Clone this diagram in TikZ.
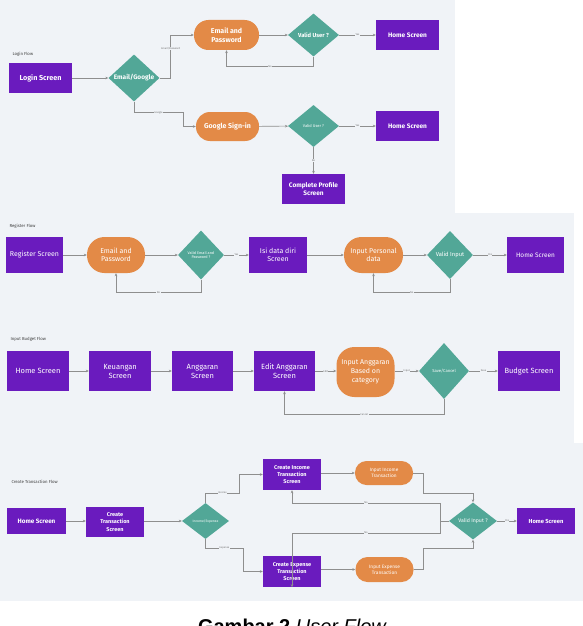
\documentclass[tikz,border=0pt]{standalone}
\usepackage{fontspec}
\setmainfont{Fira Sans}
\newfontfamily\capfont{Liberation Sans}
\usetikzlibrary{shapes.geometric,arrows.meta}

\definecolor{panel}{HTML}{F0F3F7}
\definecolor{scr}{HTML}{6A1BBE}
\definecolor{dec}{HTML}{52A797}
\definecolor{proc}{HTML}{E38A47}
\definecolor{wire}{HTML}{8E8E8E}

\begin{document}
\begin{tikzpicture}[x=1pt,y=-1pt,
  screen/.style={rectangle,fill=scr,text=white,align=center,inner sep=0pt,font=\fontsize{7}{8.3}\selectfont},
  process/.style={rectangle,fill=proc,text=white,align=center,inner sep=0pt,font=\fontsize{7}{8.3}\selectfont},
  decision/.style={diamond,fill=dec,text=white,align=center,inner sep=0pt,font=\fontsize{5.5}{6.5}\selectfont},
  conn/.style={draw=wire,line width=0.6pt,-{Stealth[length=3pt,width=2.6pt]}},
  tag/.style={fill=panel,text=black!55,inner sep=0.4pt,font=\fontsize{2.6}{3}\selectfont},
  flowtitle/.style={anchor=west,text=black!75,font=\fontsize{4.3}{5}\selectfont},
]
% page and panel backgrounds
\fill[white] (0,0) rectangle (583,626);
\fill[panel] (0,0) rectangle (455,213);
\fill[panel] (0,213) rectangle (574,443);
\fill[panel] (0,443) rectangle (583,601);
\useasboundingbox (0,0) rectangle (583,626);

% ---------------- Login flow ----------------
\node[flowtitle] (tlogin) at (9,54) {Login Flow};
\node[screen,font=\bfseries\fontsize{7.2}{8.5}\selectfont,minimum width=63pt,minimum height=30pt] (ls) at (40.5,78) {Login Screen};
\node[decision,font=\bfseries\fontsize{6.5}{7.5}\selectfont,minimum width=51pt,minimum height=42pt] (eg) at (134,78) {Email/Google};
\node[process,font=\bfseries\fontsize{7}{8.5}\selectfont,minimum width=65pt,minimum height=30pt,rounded corners=14.5pt] (ep1) at (226.5,35) {Email and\\Password};
\node[decision,font=\bfseries\fontsize{5.8}{6.8}\selectfont,minimum width=51pt,minimum height=43pt] (vu1) at (313.5,35) {Valid User ?};
\node[screen,font=\bfseries\fontsize{6.5}{7.5}\selectfont,minimum width=63pt,minimum height=30pt] (hs1) at (407.5,35) {Home Screen};
\node[process,font=\bfseries\fontsize{7}{8.5}\selectfont,minimum width=63pt,minimum height=29pt,rounded corners=14pt] (gs) at (227.5,126.5) {Google Sign-in};
\node[decision,font=\fontsize{4}{5}\selectfont,minimum width=51pt,minimum height=42pt] (vu2) at (313.5,126) {Valid User ?};
\node[screen,font=\bfseries\fontsize{6.5}{7.5}\selectfont,minimum width=63pt,minimum height=30pt] (hs2) at (407.5,126) {Home Screen};
\node[screen,font=\bfseries\fontsize{6.5}{8}\selectfont,minimum width=63pt,minimum height=30pt] (cp) at (313.5,189) {Complete Profile\\Screen};

\draw[conn] (ls) -- (eg);
\draw[conn] (eg.east) -- ++(11,0) |- node[tag,pos=0.34]{Email/Password} (ep1.west);
\draw[conn] (ep1) -- (vu1);
\draw[conn] (vu1) -- node[tag]{Yes} (hs1);
\draw[conn] (vu1.south) -- ++(0,10) -| node[tag,pos=0.25]{No} (ep1.south);
\draw[conn] (eg.south) -- ++(0,11) -- node[tag]{Google} ++(49,0) |- (gs.west);
\draw[conn] (gs) -- (vu2);
\draw[conn] (vu2) -- node[tag]{Yes} (hs2);
\draw[conn] (vu2) -- node[tag]{No} (cp);

% ---------------- Register flow ----------------
\node[flowtitle] (treg) at (6,226) {Register Flow};
\node[screen,minimum width=57pt,minimum height=36pt] (rs) at (34.5,255) {Register Screen};
\node[process,minimum width=58pt,minimum height=36pt,rounded corners=17.5pt] (ep2) at (116,255) {Email and\\Password};
\node[decision,font=\fontsize{3.8}{4.8}\selectfont,minimum width=46pt,minimum height=49pt] (ve) at (201,255) {Valid Email and\\Password ?};
\node[screen,minimum width=58pt,minimum height=36pt] (isi) at (278,255) {Isi data diri\\Screen};
\node[process,minimum width=59pt,minimum height=36pt,rounded corners=17.5pt] (ipd) at (373.5,255) {Input Personal\\data};
\node[decision,font=\fontsize{5.8}{6.8}\selectfont,minimum width=46pt,minimum height=48pt] (vi2) at (450,255) {Valid Input};
\node[screen,font=\fontsize{6.5}{7.5}\selectfont,minimum width=57pt,minimum height=36pt] (hs3) at (535.5,255) {Home Screen};

\draw[conn] (rs) -- (ep2);
\draw[conn] (ep2) -- (ve);
\draw[conn] (ve) -- node[tag]{Yes} (isi);
\draw[conn] (isi) -- (ipd);
\draw[conn] (ipd) -- (vi2);
\draw[conn] (vi2) -- node[tag]{Yes} (hs3);
\draw[conn] (ve.south) -- ++(0,13) -| node[tag,pos=0.25]{No} (ep2.south);
\draw[conn] (vi2.south) -- ++(0,13) -| node[tag,pos=0.25]{No} (ipd.south);

% ---------------- Input budget flow ----------------
\node[flowtitle] (tbud) at (7,339) {Input Budget Flow};
\node[screen,font=\fontsize{7.5}{9}\selectfont,minimum width=62pt,minimum height=40pt] (hs4) at (38,371) {Home Screen};
\node[screen,font=\fontsize{7.5}{9}\selectfont,minimum width=62pt,minimum height=40pt] (ku) at (120,371) {Keuangan\\Screen};
\node[screen,font=\fontsize{7.5}{9}\selectfont,minimum width=61pt,minimum height=40pt] (ag) at (202.5,371) {Anggaran\\Screen};
\node[screen,font=\fontsize{7.5}{9}\selectfont,minimum width=61pt,minimum height=40pt] (ea) at (284.5,371) {Edit Anggaran\\Screen};
\node[process,font=\fontsize{7}{9}\selectfont,minimum width=58pt,minimum height=50pt,rounded corners=18pt] (ia) at (365.5,372) {Input Anggaran\\Based on\\category};
\node[decision,font=\fontsize{4.2}{5}\selectfont,minimum width=50pt,minimum height=56pt] (sc) at (444,371) {Save/Cancel};
\node[screen,font=\fontsize{7.5}{9}\selectfont,minimum width=62pt,minimum height=40pt] (bs) at (529,371) {Budget Screen};

\draw[conn] (hs4) -- (ku);
\draw[conn] (ku) -- (ag);
\draw[conn] (ag) -- (ea);
\draw[conn] (ea.east) -- node[tag]{Edit} (ia.west |- ea.east);
\draw[conn] (ia.east |- sc.west) -- node[tag]{Input} (sc.west);
\draw[conn] (sc) -- node[tag]{Save} (bs);
\draw[conn] (sc.south) -- ++(0,15) -| node[tag,pos=0.25]{Cancel} (ea.south);

% ---------------- Create transaction flow ----------------
\node[flowtitle] (ttr) at (8,482) {Create Transaction Flow};
\node[screen,font=\bfseries\fontsize{6.3}{7.3}\selectfont,minimum width=59pt,minimum height=26pt] (hs5) at (36.5,521) {Home Screen};
\node[screen,font=\bfseries\fontsize{5.5}{7.4}\selectfont,minimum width=58pt,minimum height=30pt] (ct) at (115,522) {Create\\Transaction\\Screen};
\node[decision,font=\fontsize{3.4}{4}\selectfont,minimum width=47pt,minimum height=36pt] (ie) at (205.5,521) {Income/Expense};
\node[screen,font=\bfseries\fontsize{5.5}{7.4}\selectfont,minimum width=58pt,minimum height=31pt] (ci) at (292,474.5) {Create Income\\Transaction\\Screen};
\node[screen,font=\bfseries\fontsize{5.5}{7.4}\selectfont,minimum width=58pt,minimum height=31pt] (ce) at (292,571.5) {Create Expense\\Transaction\\Screen};
\node[process,font=\fontsize{4.8}{6.2}\selectfont,minimum width=58pt,minimum height=24pt,rounded corners=11.5pt] (ii) at (384,473) {Input Income\\Transaction};
\node[process,font=\fontsize{4.8}{6.2}\selectfont,minimum width=58pt,minimum height=25pt,rounded corners=12pt] (ix) at (384.5,569.5) {Input Expense\\Transaction};
\node[decision,font=\fontsize{5.2}{6}\selectfont,minimum width=48pt,minimum height=37pt] (vi3) at (473,521) {Valid Input ?};
\node[screen,font=\bfseries\fontsize{5.8}{6.8}\selectfont,minimum width=58pt,minimum height=26pt] (hs6) at (546,521) {Home Screen};

\draw[conn] (hs5) -- (ct.west |- hs5.east);
\draw[conn] (ct.east |- ie.west) -- (ie.west);
\draw[conn] (ie.north) -- ++(0,-10) -- node[tag]{Income} ++(34,0) |- (ci.west);
\draw[conn] (ie.south) -- ++(0,9) -- node[tag]{Expense} ++(38,0) |- (ce.west);
\draw[conn] (ci.east |- ii.west) -- (ii.west);
\draw[conn] (ce.east |- ix.west) -- (ix.west);
\draw[conn] (ii.east) -- ++(10,0) -- ++(0,20) -| (vi3.north);
\draw[conn] (ix.east) -- ++(10,0) -- ++(0,-21) -| (vi3.south);
\draw[conn] (vi3) -- node[tag]{Yes} (hs6);
\draw[draw=wire,line width=0.6pt] (vi3.west) -- ++(-9,0) coordinate (split);
\draw[conn] (split) -- ++(0,-18) -| node[tag,pos=0.25]{No} (ci.south);
\draw[conn] (split) -- ++(0,12) -| node[tag,pos=0.25]{No} (ce.south);

% caption, running past the lower edge of the page
\node[font=\capfont\fontsize{20}{24}\selectfont,anchor=base,inner sep=0pt] (caption) at (292.5,633) {\textbf{Gambar 2} \textit{User Flow}};
\end{tikzpicture}
\end{document}
